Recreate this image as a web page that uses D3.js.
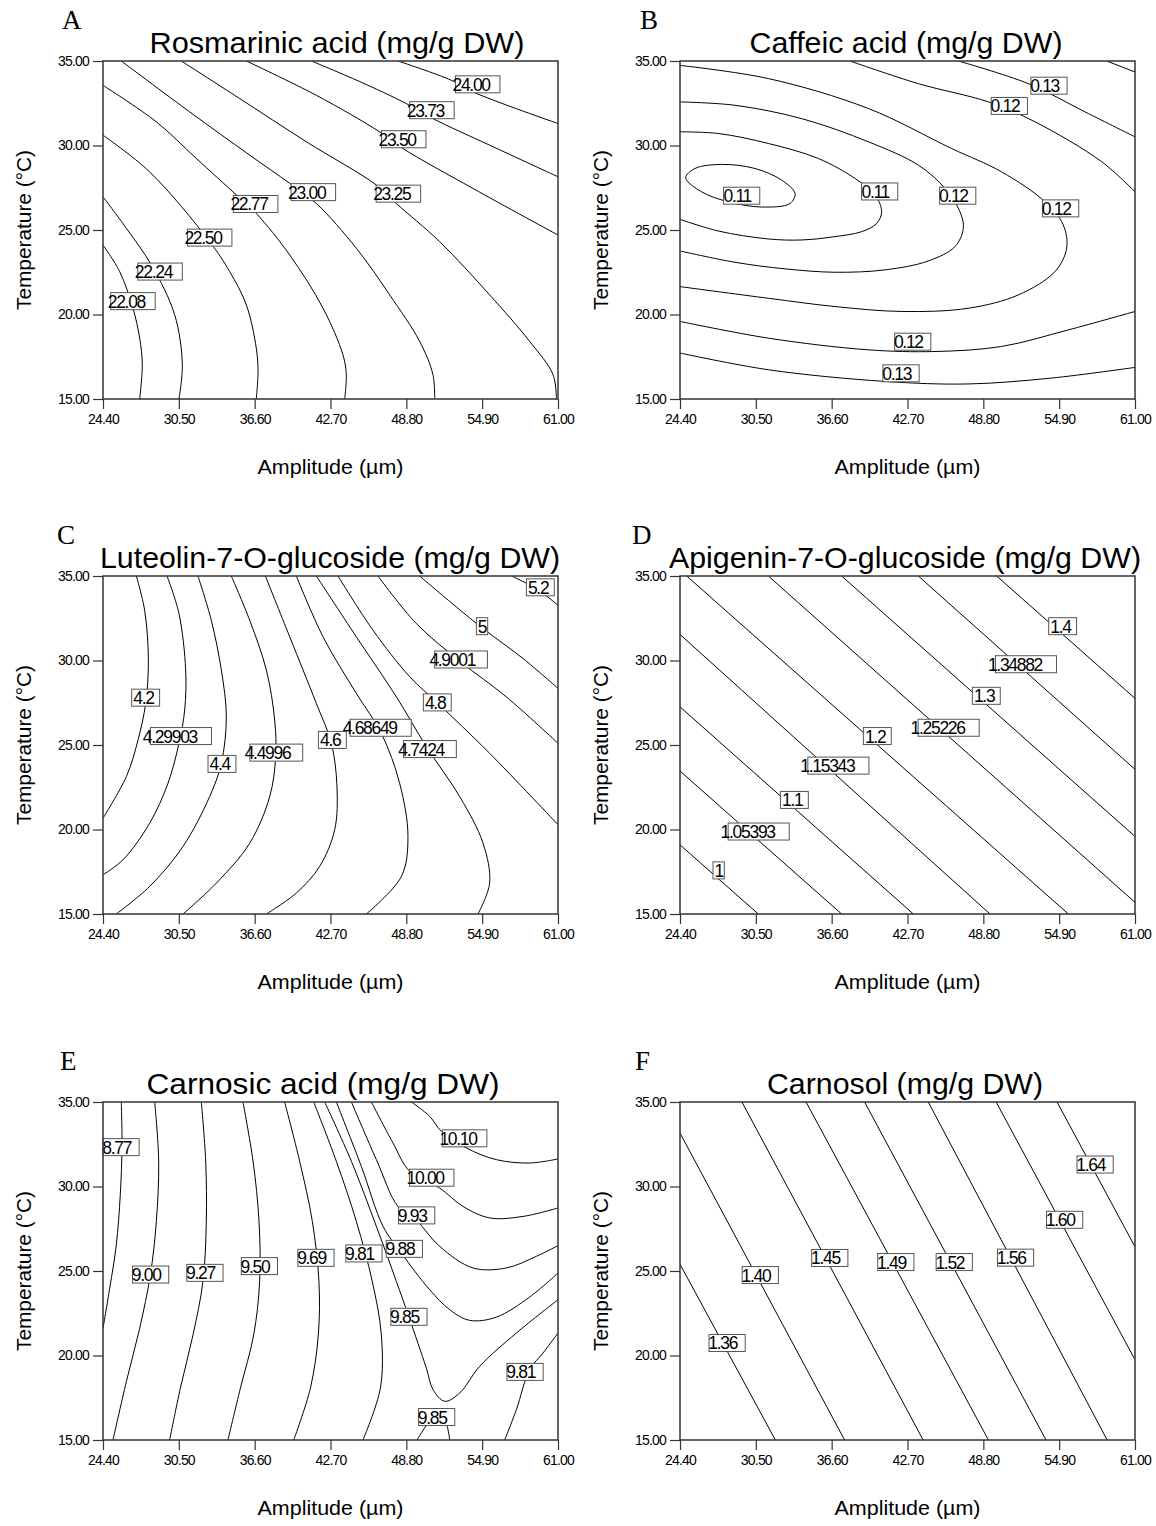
<!DOCTYPE html>
<html><head><meta charset="utf-8">
<script src="https://cdn.jsdelivr.net/npm/d3@7"></script>
<style>
body{margin:0;background:#fff}
svg{display:block}
text{fill:#000}
</style>
</head><body>
<svg id="chart" width="1156" height="1526"></svg>
<script>
// ---------- axis data ----------
const xTicks = [24.40, 30.50, 36.60, 42.70, 48.80, 54.90, 61.00];
const yTicks = [15, 20, 25, 30, 35];
const xTitle = "Amplitude (\u00b5m)";
const yTitle = "Temperature (\u00b0C)";

const panelLetters = ["A", "B", "C", "D", "E", "F"];
const panelTitles = [
  "Rosmarinic acid (mg/g DW)",
  "Caffeic acid (mg/g DW)",
  "Luteolin-7-O-glucoside (mg/g DW)",
  "Apigenin-7-O-glucoside (mg/g DW)",
  "Carnosic acid (mg/g DW)",
  "Carnosol (mg/g DW)"
];

// ---------- A: Rosmarinic acid contour lines [amplitude, temperature] ----------
const rosmarinicLines = [
  [[24.4,24.11],[25.74,22.54],[26.81,20.37],[27.35,18.60],[27.56,17.03],[27.35,15]],
  [[24.4,26.97],[26.28,25.10],[28.29,22.93],[30.16,20.0],[30.78,17.03],[30.51,15]],
  [[24.4,30.61],[28.15,28.44],[32.98,24.31],[34.59,22.54],[35.93,20.57],[36.73,18.01],[36.87,16.63],[36.73,15]],
  [[24.4,33.56],[28.69,31.40],[31.91,29.23],[35.13,27.07],[36.73,25.98],[39.42,23.52],[42.10,20.37],[43.70,17.62],[43.97,16.44],[43.84,15]],
  [[25.87,35],[31.37,31.99],[36.20,29.43],[39.42,27.76],[41.56,26.57],[44.78,23.92],[47.46,21.16],[49.87,18.41],[50.94,16.44],[51.08,15]],
  [[30.70,35],[35.39,32.78],[40.76,30.22],[46.39,27.66],[47.99,26.57],[51.48,24.31],[55.50,21.16],[58.72,18.41],[60.60,16.44],[60.87,15]],
  [[35.93,35],[41.56,32.97],[46.65,30.81],[48.53,29.82],[54.16,27.46],[61,24.70]],
  [[41.16,35],[45.0,33.8],[48.80,32.48],[50.94,31.59],[55.50,30.02],[61,28.15]],
  [[48.13,35],[52.42,33.86],[54.16,33.17],[61,31.30]]
];
const rosmarinicLabels = [
  [54.54,33.62,"24.00"],[50.86,32.09,"23.73"],[48.59,30.37,"23.50"],
  [41.32,27.24,"23.00"],[48.16,27.15,"23.25"],[36.68,26.54,"22.77"],
  [32.98,24.55,"22.50"],[28.99,22.54,"22.24"],[26.81,20.79,"22.08"]
];

// ---------- B: Caffeic acid ----------
const caffeicLines = [
  [[24.86,28.09],[25.61,28.64],[27.75,28.88],[30.43,28.64],[32.58,27.95],[33.65,27.17],[33.25,26.57],[30.97,26.36],[28.29,26.67],[26.14,27.26]],
  [[24.4,30.81],[27.48,30.71],[31.51,30.12],[35.53,29.23],[38.48,28.05],[40.09,27.07],[40.62,26.08],[40.22,25.39],[39.01,24.90],[36.87,24.61],[34.19,24.41],[31.51,24.47],[27.48,24.94],[24.4,25.63]],
  [[24.4,32.58],[28.82,32.38],[34.19,31.59],[39.55,30.22],[43.57,28.84],[45.72,27.46],[46.92,26.08],[47.19,25.10],[46.52,24.02],[44.38,23.17],[40.89,22.64],[36.87,22.50],[32.85,22.70],[28.82,23.09],[24.4,23.76]],
  [[24.4,34.74],[31.51,33.96],[39.55,32.19],[46.25,29.82],[50.27,28.44],[53.76,26.67],[55.23,25.30],[55.50,23.92],[54.56,22.54],[51.62,21.16],[47.59,20.37],[42.23,20.18],[36.87,20.47],[31.51,20.96],[24.4,21.65]],
  [[38.07,35],[43.57,33.66],[49.20,32.58],[52.96,31.40],[58.32,29.04],[61,27.26]],
  [[46.79,35],[52.42,33.66],[56.98,31.99],[61,30.51]],
  [[58.72,35],[61,34.35]],
  [[24.4,19.59],[31.51,18.60],[39.55,17.91],[44.91,17.81],[50.27,18.11],[55.64,19.09],[61,20.18]],
  [[24.4,17.72],[31.51,16.73],[40.89,16.04],[47.59,15.89],[54.30,16.24],[61,16.87]]
];
const caffeicClosed = [true, false, false, false, false, false, false, false, false];
const caffeicLabels = [
  [54.08,33.54,"0.13"],[50.89,32.34,"0.12"],[29.36,27.03,"0.11"],[40.46,27.28,"0.11"],
  [46.74,27.03,"0.12"],[55.02,26.28,"0.12"],[43.12,18.39,"0.12"],[42.18,16.52,"0.13"]
];

// ---------- C: Luteolin-7-O-glucoside ----------
const luteolinLines = [
  [[27.08,35],[27.75,32.97],[28.05,30.02],[27.83,27.46],[27.22,25.30],[26.28,23.13],[24.4,20.67]],
  [[29.55,35],[30.51,32.78],[31.05,29.43],[30.97,27.07],[30.51,25.10],[29.63,22.74],[28.15,20.37],[26.01,18.21],[24.4,17.32]],
  [[32.04,35],[33.11,32.38],[33.92,29.43],[34.32,26.67],[33.92,23.92],[32.98,21.95],[30.84,19.0],[28.15,16.63],[25.47,15]],
  [[34.72,35],[36.20,32.38],[37.54,29.43],[38.21,26.48],[38.29,24.31],[37.81,21.95],[36.20,19.19],[33.52,16.83],[30.84,15]],
  [[37.46,35],[39.42,31.40],[41.56,27.46],[42.77,25.10],[43.22,22.54],[43.04,20.0],[41.83,17.82],[39.95,16.24],[37.54,15]],
  [[39.95,35],[42.10,31.40],[44.78,28.05],[46.79,25.69],[48.26,22.74],[48.93,19.59],[48.40,17.22],[45.58,15]],
  [[41.56,35],[44.78,31.40],[48.0,27.85],[50.41,24.90],[53.09,21.95],[54.97,19.19],[55.50,16.83],[54.56,15]],
  [[43.30,35],[46.12,31.79],[49.07,29.04],[51.35,27.46],[55.50,24.51],[61,20.28]],
  [[46.52,35],[49.60,32.19],[53.17,29.92],[56.84,27.85],[61,25.10]],
  [[49.87,35],[52.82,33.17],[54.97,31.89],[58.18,30.12],[61,28.35]],
  [[57.25,35],[59.26,34.25],[61,33.27]]
];
const luteolinLabels = [
  [27.83,27.80,"4.2"],[30.67,25.53,"4.29903"],[33.97,23.88,"4.4"],[38.34,24.55,"4.4996"],
  [42.85,25.30,"4.6"],[46.74,26.02,"4.68649"],[50.70,24.76,"4.7424"],[51.29,27.52,"4.8"],
  [53.20,30.06,"4.9001"],[54.89,32.03,"5"],[59.58,34.33,"5.2"]
];

// ---------- D: Apigenin-7-O-glucoside ----------
const apigeninLines = [
  [[24.4,19.09],[30.70,15]],
  [[24.4,23.46],[37.40,15]],
  [[24.4,27.26],[43.17,15]],
  [[24.4,31.54],[49.34,15]],
  [[24.94,35],[55.64,15]],
  [[31.51,35],[61,15.69]],
  [[37.40,35],[61,19.59]],
  [[43.57,35],[61,23.56]],
  [[49.87,35],[61,27.76]]
];
const apigeninLabels = [
  [27.51,17.58,"1"],[30.73,19.88,"1.05393"],[33.60,21.75,"1.1"],[37.14,23.78,"1.15343"],
  [40.27,25.53,"1.2"],[46.01,26.02,"1.25226"],[49.04,27.91,"1.3"],[52.23,29.78,"1.34882"],
  [55.18,32.03,"1.4"]
];

// ---------- E: Carnosic acid ----------
const carnosicLines = [
  [[25.87,35],[25.93,32.47],[25.79,29.51],[25.47,26.55],[24.94,23.98],[24.4,21.61]],
  [[28.56,35],[28.88,31.49],[28.69,27.93],[28.21,24.77],[27.35,21.61],[26.28,18.46],[25.20,15]],
  [[32.31,35],[32.66,31.49],[32.71,27.93],[32.44,24.38],[31.64,21.22],[30.62,18.06],[29.76,15]],
  [[35.66,35],[36.47,31.49],[36.95,27.93],[37.0,24.38],[36.52,21.22],[35.45,18.06],[34.45,15]],
  [[39.01,35],[40.22,31.49],[41.24,27.93],[41.77,24.38],[41.72,21.22],[41.08,18.06],[39.74,15]],
  [[41.35,35],[43.17,31.49],[44.78,27.93],[46.06,24.38],[46.79,21.22],[46.71,18.06],[45.31,15]],
  [[42.23,35],[44.38,31.49],[46.44,27.54],[48.0,24.38],[49.0,22.3],[50.41,19.25],[50.95,17.98],[51.89,17.29],[53.09,17.78],[54.70,19.36],[57.65,21.33],[61,23.30]],
  [[43.17,35],[45.18,31.19],[46.93,27.64],[48.40,26.06],[50.68,23.89],[52.29,22.71],[53.90,22.08],[56.04,22.27],[58.72,23.46],[61,24.88]],
  [[44.38,35],[46.39,31.59],[48.13,28.82],[49.34,28.23],[51.48,26.46],[54.17,25.18],[56.85,25.18],[59.26,25.87],[61,26.50]],
  [[45.99,35],[47.73,32.57],[49.07,30.90],[51.48,29.91],[53.36,28.82],[55.51,28.14],[58.19,28.23],[61,28.73]],
  [[49.21,35],[50.68,34.15],[51.62,33.26],[53.63,32.28],[56.04,31.59],[58.72,31.39],[61,31.63]],
  [[49.66,15],[50.68,16.10],[51.35,16.40],[51.89,16.20],[52.29,15]],
  [[56.71,15],[57.65,16.79],[58.72,19.16],[59.80,20.15],[61,21.33]]
];
const carnosicLabels = [
  [25.85,32.33,"8.77"],[28.23,24.79,"9.00"],[32.60,24.89,"9.27"],[36.98,25.29,"9.50"],
  [41.53,25.78,"9.69"],[45.39,26.04,"9.81"],[48.64,26.31,"9.88"],[49.63,28.29,"9.93"],
  [50.84,30.52,"10.00"],[53.49,32.85,"10.10"],[49.01,22.29,"9.85"],[51.24,16.36,"9.85"],
  [58.35,19.03,"9.81"]
];

// ---------- F: Carnosol ----------
const carnosolLines = [
  [[24.4,25.40],[32.07,15]],
  [[24.4,33.16],[37.64,15]],
  [[29.38,35],[43.96,15]],
  [[34.54,35],[49.21,15]],
  [[39.25,35],[53.84,15]],
  [[44.37,35],[58.76,15]],
  [[49.83,35],[61,19.75]],
  [[54.73,35],[61,26.43]]
];
const carnosolLabels = [
  [28.19,20.74,"1.36"],[30.86,24.76,"1.40"],[36.45,25.77,"1.45"],[41.76,25.53,"1.49"],
  [46.46,25.53,"1.52"],[51.39,25.79,"1.56"],[55.34,28.03,"1.60"],[57.79,31.30,"1.64"]
];

// ---------- layout ----------
const panels = [
  {lines: rosmarinicLines, labels: rosmarinicLabels, closed: null, titleW: 375},
  {lines: caffeicLines, labels: caffeicLabels, closed: caffeicClosed, titleW: 313},
  {lines: luteolinLines, labels: luteolinLabels, closed: null, titleW: 460},
  {lines: apigeninLines, labels: apigeninLabels, closed: null, titleW: 472},
  {lines: carnosicLines, labels: carnosicLabels, closed: null, titleW: 353},
  {lines: carnosolLines, labels: carnosolLabels, closed: null, titleW: 276}
];
const W = 455, H = 338;
const colX = [103, 680];
const rowY = [61, 576, 1102];
const SANS = '"Liberation Sans",Arial,sans-serif';
const SERIF = '"Liberation Serif","Times New Roman",serif';

const svg = d3.select("#chart");
const defs = svg.append("defs");

panels.forEach((p, i) => {
  const left = colX[i % 2], top = rowY[Math.floor(i / 2)];
  const g = svg.append("g").attr("transform", `translate(${left},${top})`);
  const x = d3.scaleLinear().domain([24.4, 61]).range([0, W]);
  const y = d3.scaleLinear().domain([15, 35]).range([H, 0]);

  defs.append("clipPath").attr("id", "clip" + i)
    .append("rect").attr("width", W).attr("height", H);

  // contour lines
  const lineOpen = d3.line().x(d => x(d[0])).y(d => y(d[1])).curve(d3.curveCatmullRom.alpha(0.5));
  const lineClosed = d3.line().x(d => x(d[0])).y(d => y(d[1])).curve(d3.curveCatmullRomClosed.alpha(0.5));
  g.append("g").attr("clip-path", `url(#clip${i})`)
    .selectAll("path").data(p.lines).join("path")
    .attr("d", (d, k) => (p.closed && p.closed[k]) ? lineClosed(d) : lineOpen(d))
    .attr("fill", "none").attr("stroke", "#000").attr("stroke-width", 1);

  // contour labels
  const lab = g.append("g").selectAll("g").data(p.labels).join("g")
    .attr("transform", d => `translate(${x(d[0])},${y(d[1])})`);
  lab.append("rect")
    .attr("x", d => -(8.3 * d[2].length + 3) / 2)
    .attr("y", -8.5)
    .attr("width", d => 8.3 * d[2].length + 3)
    .attr("height", 17)
    .attr("fill", "#fff").attr("stroke", "#555").attr("stroke-width", 1);
  lab.append("text")
    .attr("x", d => -Math.max(0, 2.2 * (d[2].length - 2)))
    .attr("y", 6.5)
    .attr("text-anchor", "middle")
    .style("font-family", SANS)
    .style("font-size", "17.5px")
    .style("letter-spacing", "-1.3px")
    .text(d => d[2]);

  // frame
  g.append("rect").attr("width", W).attr("height", H)
    .attr("fill", "none").attr("stroke", "#333").attr("stroke-width", 1.5);

  // axes
  const fmt = d3.format(".2f");
  const ax = g.append("g").attr("transform", `translate(0,${H})`)
    .call(d3.axisBottom(x).tickValues(xTicks).tickFormat(fmt).tickSize(10).tickSizeOuter(0).tickPadding(5));
  const ay = g.append("g")
    .call(d3.axisLeft(y).tickValues(yTicks).tickFormat(fmt).tickSize(10).tickSizeOuter(0).tickPadding(4));
  [ax, ay].forEach(a => {
    a.select(".domain").remove();
    a.selectAll("line").attr("stroke", "#333").attr("stroke-width", 1.2);
    a.selectAll("text")
      .style("font-family", SANS).style("font-size", "14px").style("letter-spacing", "-0.8px")
      .attr("fill", "#000");
  });

  // axis titles
  g.append("text").attr("x", W / 2 - 73).attr("y", H + 75)
    .style("font-family", SANS).style("font-size", "21px")
    .attr("textLength", 146).attr("lengthAdjust", "spacingAndGlyphs")
    .text(xTitle);
  g.append("text").attr("transform", `translate(-72,${H / 2 + 80}) rotate(-90)`)
    .style("font-family", SANS).style("font-size", "21px")
    .attr("textLength", 160).attr("lengthAdjust", "spacingAndGlyphs")
    .text(yTitle);

  // title
  const cx = [337 - 103, 906 - 680, 330 - 103, 905 - 680, 323 - 103, 905 - 680][i];
  g.append("text").attr("x", cx - p.titleW / 2).attr("y", -8)
    .style("font-family", SANS).style("font-size", "30px")
    .attr("textLength", p.titleW).attr("lengthAdjust", "spacingAndGlyphs")
    .text(panelTitles[i]);

  // panel letter
  g.append("text").attr("x", [-41, -40, -46, -48, -43, -45][i]).attr("y", -32)
    .style("font-family", SERIF)
    .style("font-size", "27px")
    .text(panelLetters[i]);
});
</script>
</body></html>
